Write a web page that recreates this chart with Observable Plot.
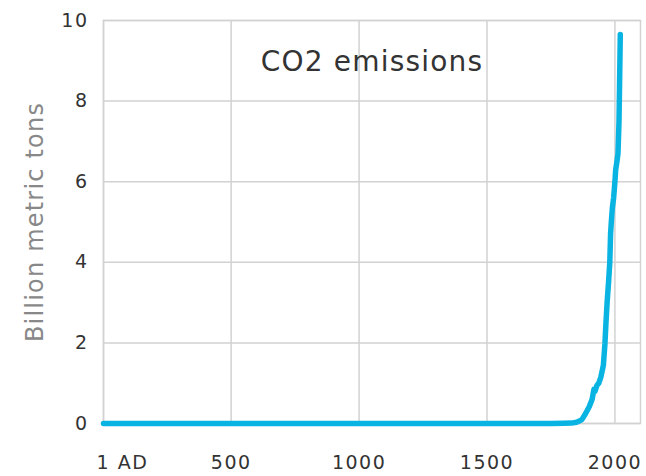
<!DOCTYPE html>
<html>
<head>
<meta charset="utf-8">
<script src="https://cdn.jsdelivr.net/npm/d3@7"></script>
<script src="https://cdn.jsdelivr.net/npm/@observablehq/plot@0.6"></script>
<style>
  html, body { margin: 0; padding: 0; background: #fff; }
  g[aria-label="x-axis tick label"] text,
  g[aria-label="y-axis tick label"] text { letter-spacing: 1.5px; }
  g.title text { letter-spacing: 1.2px; }
  g.ylabel text { letter-spacing: 1.2px; }
</style>
</head>
<body>
<div id="chart"></div>
<script>
const title = "CO2 emissions";
const yLabel = "Billion metric tons";
const years  = [1, 1750, 1800, 1830, 1850, 1870, 1885, 1900, 1911, 1916, 1918, 1922, 1930, 1937, 1945, 1950, 1955, 1961, 1965, 1970, 1975, 1980, 1983, 1986, 1990, 1995, 2000, 2003, 2008, 2012, 2016, 2018, 2021];
const values = [0, 0, 0.005, 0.01, 0.03, 0.09, 0.24, 0.42, 0.6, 0.78, 0.85, 0.8, 0.95, 1.0, 1.15, 1.3, 1.45, 1.98, 2.5, 3.05, 3.5, 4.0, 4.7, 5.0, 5.35, 5.6, 6.0, 6.3, 6.5, 6.7, 7.5, 8.35, 9.65];
const xTicks = [500, 1000, 1500, 2000];
const firstTick = [1];
const firstTickLabel = "1 AD";
const yTicks = [0, 2, 4, 6, 8, 10];

const data = years.map((year, i) => ({year, value: values[i]}));
const font = "'DejaVu Sans', sans-serif";

const chart = Plot.plot({
  width: 646,
  height: 476,
  marginLeft: 103,
  marginRight: 6,
  marginTop: 20,
  marginBottom: 53,
  x: {domain: [1, 2100]},
  y: {domain: [0, 10]},
  style: {fontFamily: font, fontSize: "20px", color: "#333", background: "#fff", overflow: "visible"},
  marks: [
    Plot.gridX([...firstTick, ...xTicks], {stroke: "#d2d2d2", strokeOpacity: 1, strokeWidth: 1.5}),
    Plot.gridY(yTicks, {stroke: "#d2d2d2", strokeOpacity: 1, strokeWidth: 1.5}),
    Plot.frame({stroke: "#d2d2d2", strokeWidth: 1.5}),
    Plot.axisX(xTicks, {tickSize: 0, tickPadding: 32, label: null, tickFormat: d => String(d), fontSize: 19, fill: "#333"}),
    Plot.axisX(firstTick, {tickSize: 0, tickPadding: 32, label: null, tickFormat: () => firstTickLabel, textAnchor: "start", dx: -7, fontSize: 19, fill: "#333"}),
    Plot.axisY(yTicks, {tickSize: 0, tickPadding: 15, label: null, tickFormat: d => String(d), fontSize: 19, fill: "#333"}),
    Plot.text([yLabel], {frameAnchor: "left", textAnchor: "middle", rotate: -90, dx: -68, fontSize: 24, fill: "#888", className: "ylabel"}),
    Plot.text([title], {frameAnchor: "top", dy: 31, fontSize: 28, fill: "#333", className: "title"}),
    Plot.line(data, {x: "year", y: "value", stroke: "#0ab4e2", strokeWidth: 5.5, strokeLinejoin: "round", strokeLinecap: "round"})
  ]
});
document.getElementById("chart").append(chart);
</script>
</body>
</html>
